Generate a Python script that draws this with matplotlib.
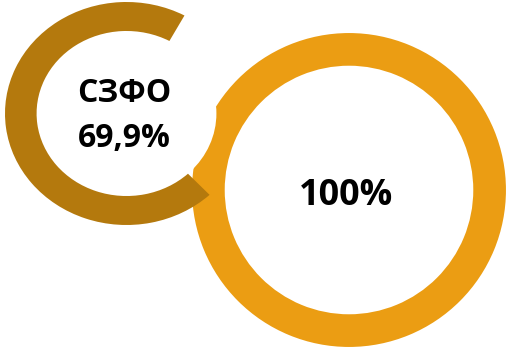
import matplotlib
matplotlib.use("Agg")
import matplotlib.pyplot as plt
from matplotlib.patches import Circle

# Data
region_label = "СЗФО"
region_share = [69.9, 30.1]      # filled share, remainder
total_share = [100.0]
region_text = "69,9%"
total_text = "100%"

dark_gold = "#B4790D"
orange = "#EB9D13"

W, H = 508, 351
fig = plt.figure(figsize=(W / 100, H / 100), dpi=100)
fig.patch.set_facecolor("white")


def px_axes(x0, y0, x1, y1):
    """Axes placed by pixel box (top-left origin)."""
    ax = fig.add_axes([x0 / W, (H - y1) / H, (x1 - x0) / W, (y1 - y0) / H])
    ax.set_xlim(-1, 1)
    ax.set_ylim(-1, 1)
    ax.axis("off")
    return ax


# Large ring: overall total
ax_big = px_axes(191, 32, 507, 348)
ax_big.pie(total_share, radius=1, startangle=0, colors=[orange],
           wedgeprops=dict(width=0.22, edgecolor="white", linewidth=1.5))
ax_big.set_aspect("auto")
ax_big.set_xlim(-1, 1)
ax_big.set_ylim(-1, 1)
ax_big.text(-0.02, -0.095, total_text, ha="center", va="baseline",
            fontsize=26, fontweight="bold", family="Open Sans", color="black")

# Small ring: regional share, drawn on top
ax_small = px_axes(5, 2, 248, 225)
ax_small.add_patch(Circle((0, 0), 0.74, facecolor="white", edgecolor="none", zorder=0))
wedges, _ = ax_small.pie(region_share, radius=1, startangle=61.5,
                         colors=[dark_gold, "none"],
                         wedgeprops=dict(width=0.26, edgecolor="none"))
ax_small.set_aspect("auto")
ax_small.set_xlim(-1, 1)
ax_small.set_ylim(-1, 1)
ax_small.text(-0.02, 0.103, region_label, ha="center", va="baseline",
              fontsize=23, fontweight="bold", family="Open Sans", color="black")
ax_small.text(-0.02, -0.30, region_text, ha="center", va="baseline",
              fontsize=23, fontweight="bold", family="Open Sans", color="black")

fig.savefig("out.png", dpi=100, facecolor="white")
